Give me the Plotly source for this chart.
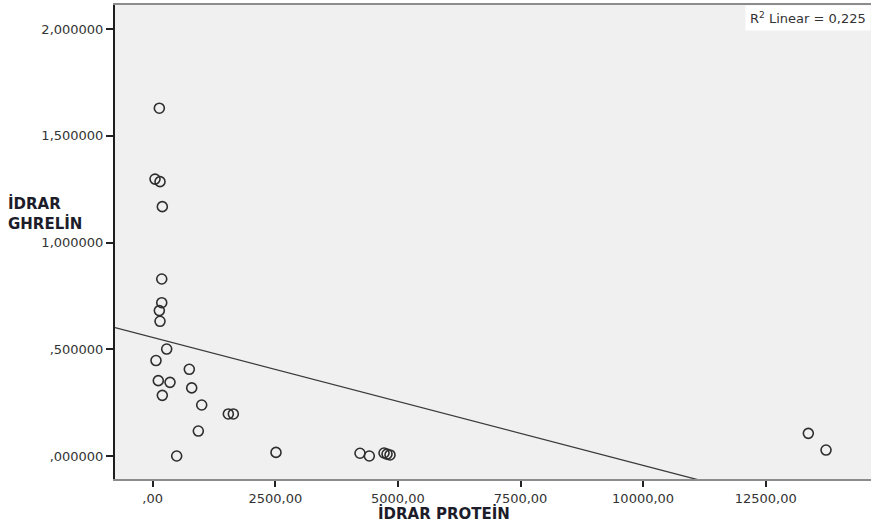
import numpy as np
import plotly.graph_objects as go

# Urine protein vs. urine ghrelin
idrar_protein = [135, 47, 149, 196, 184, 184, 135, 149, 285, 67,
                 746, 114, 353, 795, 196, 999, 1542, 1644, 930, 489,
                 2514, 4227, 4417, 4717, 4778, 4839, 13369, 13730]
idrar_ghrelin = [1.629, 1.297, 1.285, 1.168, 0.829, 0.718, 0.681, 0.631, 0.501, 0.447,
                 0.406, 0.353, 0.345, 0.319, 0.284, 0.239, 0.197, 0.197, 0.117, 0.000,
                 0.017, 0.013, 0.000, 0.014, 0.009, 0.005, 0.106, 0.028]

x_tick_vals = [0, 2500, 5000, 7500, 10000, 12500]
x_tick_text = [",00", "2500,00", "5000,00", "7500,00", "10000,00", "12500,00"]
y_tick_vals = [0.0, 0.5, 1.0, 1.5, 2.0]
y_tick_text = [",000000", ",500000", "1,000000", "1,500000", "2,000000"]

x_range = [-769, 14647]
y_range = [-0.1077, 2.1124]

# Least-squares linear fit and its R^2
x = np.array(idrar_protein, dtype=float)
y = np.array(idrar_ghrelin, dtype=float)
slope, intercept = np.polyfit(x, y, 1)
pred = intercept + slope * x
r2 = 1 - np.sum((y - pred) ** 2) / np.sum((y - y.mean()) ** 2)
r2_text = f"{r2:.3f}".replace(".", ",")

line_x = np.array(x_range, dtype=float)
line_y = intercept + slope * line_x

font_family = "DejaVu Sans, Arial, sans-serif"
title_color = "#1c1c2a"

fig = go.Figure()
fig.add_trace(go.Scatter(
    x=line_x, y=line_y, mode="lines",
    line=dict(color="#3a3a3a", width=1.3),
    hoverinfo="skip", showlegend=False,
))
fig.add_trace(go.Scatter(
    x=idrar_protein, y=idrar_ghrelin, mode="markers",
    marker=dict(symbol="circle-open", size=10, color="#2e2e2e",
                line=dict(width=1.6, color="#2e2e2e")),
    showlegend=False,
))

fig.update_layout(
    width=871, height=523,
    margin=dict(l=115, r=0, t=5, b=44),
    paper_bgcolor="white",
    plot_bgcolor="#f0f0f0",
    font=dict(family=font_family, size=12, color="#333333"),
    xaxis=dict(
        range=x_range, tickvals=x_tick_vals, ticktext=x_tick_text,
        showgrid=False, zeroline=False,
        showline=True, linecolor="#8c8c8c", linewidth=2, mirror=True,
        ticks="outside", ticklen=6, tickwidth=1.5, tickcolor="#222222",
        tickfont=dict(family=font_family, size=13, color="#333333"),
    ),
    yaxis=dict(
        range=y_range, tickvals=y_tick_vals, ticktext=y_tick_text,
        showgrid=False, zeroline=False,
        showline=True, linecolor="#1e1e1e", linewidth=2,
        ticks="outside", ticklen=7, tickwidth=1.5, tickcolor="#222222",
        tickfont=dict(family=font_family, size=13, color="#333333"),
    ),
    annotations=[
        dict(text="<b>İDRAR PROTEİN</b>", xref="paper", yref="paper",
             x=(444 - 115) / 756, y=-(513 - 479) / 474,
             xanchor="center", yanchor="middle",
             showarrow=False, font=dict(family=font_family, size=15, color=title_color)),
        dict(text="<b>İDRAR<br>GHRELİN</b>", xref="paper", yref="paper",
             x=-(115 - 6) / 756, y=(479 - 213) / 474, xanchor="left", yanchor="middle",
             align="left", showarrow=False,
             font=dict(family=font_family, size=15, color=title_color)),
        dict(text=f"R<sup>2</sup> Linear = {r2_text}", xref="paper", yref="paper",
             x=1, y=1, xanchor="right", yanchor="top", showarrow=False,
             bgcolor="white", borderpad=4,
             font=dict(family=font_family, size=13, color="#333333")),
    ],
)

fig.write_html("out.html")
